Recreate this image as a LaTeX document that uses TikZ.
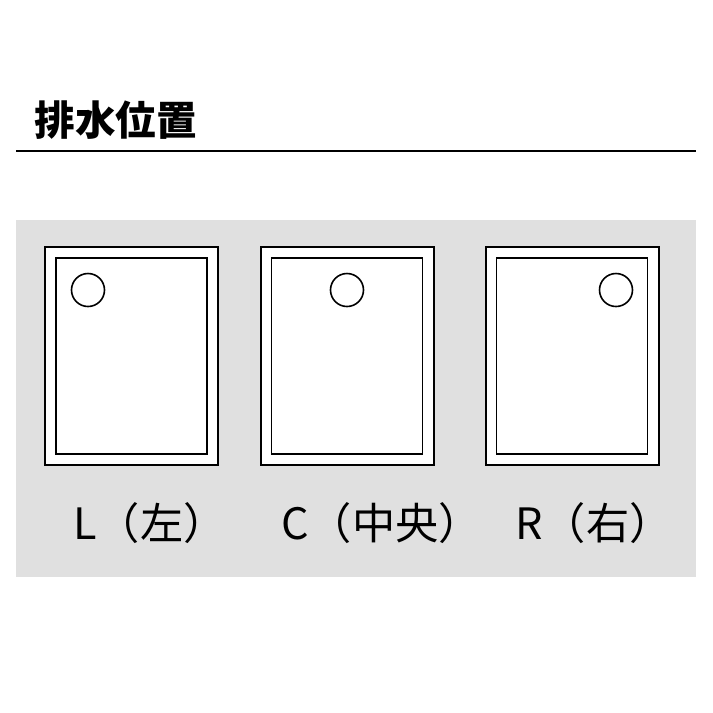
\documentclass[tikz,border=0pt]{standalone}
\usepackage{fontspec}
\setmainfont{Noto Sans CJK JP}
\definecolor{panelgray}{HTML}{E0E0E0}
\begin{document}
\begin{tikzpicture}[x=0.5pt,y=-0.5pt]
\tikzstyle{tray} = [draw, fill=white, line width=0.9pt, minimum width=86.5pt, minimum height=109pt, inner sep=0];
\tikzstyle{basin} = [draw, line width=0.9pt, minimum width=75.5pt, minimum height=98pt, inner sep=0];
\tikzstyle{drain} = [draw, circle, line width=0.8pt, minimum size=16.5pt, inner sep=0];
\tikzstyle{poslabel} = [anchor=base west, inner sep=0, font=\fontsize{21.6}{26}\selectfont];
\useasboundingbox (0,0) rectangle (713,713);
\fill[panelgray] (16,220) rectangle (696,577);
\node[anchor=base west, inner sep=0, font=\fontsize{20.3}{24}\selectfont\bfseries] (title) at (34,135) {排水位置};
\draw[line width=0.8pt] (16,151) -- (696,151);
\node[tray] (trayL) at (131.5,356) {};
\node[basin] (basinL) at (131.5,356) {};
\node[drain] (drainL) at (88,290) {};
\node[tray] (trayC) at (347.5,356) {};
\node[basin] (basinC) at (347,356) {};
\node[drain] (drainC) at (347,290) {};
\node[tray] (trayR) at (572.5,356) {};
\node[basin] (basinR) at (572,356) {};
\node[drain] (drainR) at (616,290) {};
\node[poslabel] (labelL) at (73,539) {L（左）};
\node[poslabel] (labelC) at (281,539) {C（中央）};
\node[poslabel] (labelR) at (515,539) {R（右）};
\end{tikzpicture}
\end{document}
